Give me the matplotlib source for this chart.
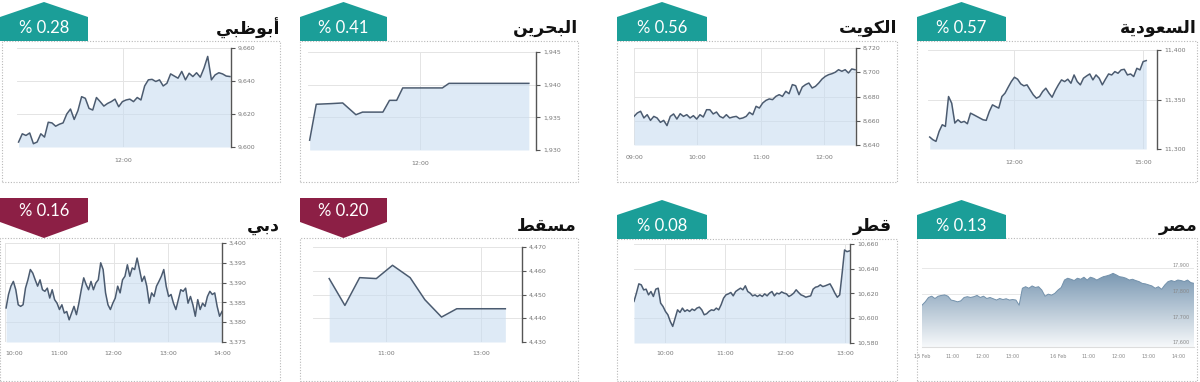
import numpy as np
import matplotlib
matplotlib.use('Agg')
import matplotlib.pyplot as plt
from matplotlib.patches import Polygon, Rectangle
from matplotlib.colors import LinearSegmentedColormap
from matplotlib.transforms import blended_transform_factory

# ---- data ----
titles = ['أبوظبي', 'البحرين', 'الكويت', 'السعودية', 'دبي', 'مسقط', 'قطر', 'مصر']
changes = ['0.28', '0.41', '0.56', '0.57', '0.16', '0.20', '0.08', '0.13']
is_up = [True, True, True, True, False, False, True, True]

abudhabi = [9603, 9608, 9607, 9608.5, 9602, 9603, 9608, 9606, 9615, 9614.6, 9612.6, 9613.8,
            9614.6, 9620, 9623, 9616.7, 9622, 9630.5, 9629.5, 9623.4, 9622.4, 9630, 9627.5,
            9624.8, 9626.4, 9627.5, 9629, 9624.4, 9627.5, 9628.5, 9629, 9627.5, 9630, 9628.5,
            9637, 9640.7, 9641, 9639.7, 9640.7, 9637, 9638.6, 9644.3, 9643, 9641.7, 9645.8,
            9640.7, 9644.7, 9642.7, 9645, 9642.3, 9647.8, 9654.9, 9640.7, 9643.7, 9645, 9644.3,
            9643, 9642.7]
abudhabi_session = (10.0, 14.03)

bahrain_times = [10.0, 10.12, 10.39, 10.60, 10.72, 10.84, 10.96, 11.33, 11.45, 11.58, 11.69,
                 12.41, 12.53, 13.98]
bahrain = [1931.5, 1937.0, 1937.1, 1937.2, 1936.3, 1935.4, 1935.8, 1935.8, 1937.6, 1937.6,
           1939.5, 1939.5, 1940.2, 1940.2]

kuwait = [8663.6, 8666.4, 8667.8, 8662.3, 8665, 8660.3, 8663.6, 8662.3, 8658.7, 8660.3, 8656,
          8663.6, 8665.6, 8661.4, 8665.8, 8663.6, 8665, 8662.3, 8664.2, 8661.4, 8665, 8663.1,
          8669.1, 8669.1, 8665.6, 8667.2, 8663.6, 8662.3, 8665, 8662.3, 8663.1, 8663.6, 8661.7,
          8662.3, 8663.6, 8666.9, 8665, 8671.9, 8670.5, 8674.6, 8676.8, 8678, 8677.4, 8680.1,
          8681.5, 8680.1, 8684.3, 8682.3, 8689.8, 8688.9, 8681.5, 8687.8, 8689.8, 8691.1, 8687,
          8688.4, 8691.1, 8694.4, 8696.6, 8698, 8698.8, 8700, 8702.1, 8700.8, 8702.1, 8699.4,
          8702.7, 8702.1]
kuwait_session = (9.0, 12.49)

saudi = [11312.1, 11309.4, 11307.7, 11317.8, 11324.5, 11322.8, 11353, 11346.3, 11326.2, 11329.5,
         11326.8, 11327.9, 11325.5, 11336.2, 11334.6, 11332.9, 11331.2, 11329.5, 11328.9, 11337.9,
         11344.6, 11342.9, 11341.3, 11353, 11356.4, 11362.4, 11368.1, 11372.5, 11370.5, 11365.8,
         11363.8, 11364.8, 11359.7, 11354.7, 11351.3, 11353, 11358.1, 11361.4, 11356.4, 11352.3,
         11359.1, 11364.8, 11369.8, 11368.1, 11370.5, 11366.4, 11374.8, 11368.1, 11364.8, 11371.5,
         11373.8, 11375.8, 11369.8, 11374.8, 11371.5, 11364.8, 11370.5, 11375.8, 11374.8, 11378.2,
         11376.5, 11379.9, 11380.5, 11374.8, 11375.8, 11373.2, 11381.5, 11379.9, 11388.3, 11389.3]
saudi_session = (10.04, 15.08)

dubai = [3383.6, 3387, 3389.1, 3390.3, 3388.2, 3384.4, 3384, 3384.4, 3388.6, 3390.7, 3393.3,
         3392.4, 3390.7, 3389.1, 3390.7, 3388.2, 3387.8, 3388.6, 3386.1, 3388.2, 3385.7, 3384.8,
         3383.2, 3384.4, 3382.3, 3382.7, 3380.6, 3382.3, 3384, 3381.9, 3384.8, 3388.2, 3391.2,
         3389.5, 3388.2, 3390.3, 3388.2, 3389.9, 3390.7, 3395, 3393.3, 3387.4, 3384.4, 3383.2,
         3384.8, 3386.1, 3389.1, 3387.4, 3390.7, 3391.6, 3394.5, 3391.6, 3393.7, 3393.3, 3396.2,
         3393.3, 3390.3, 3391.6, 3389.1, 3384.8, 3387.4, 3386.5, 3389.1, 3390.3, 3391.6, 3393.3,
         3389.1, 3386.5, 3387, 3384.8, 3383.2, 3385.7, 3388.2, 3387.8, 3388.6, 3384.8, 3386.5,
         3384.4, 3381.5, 3385.7, 3383.2, 3384.8, 3384, 3386.5, 3387.8, 3387, 3387.4, 3384,
         3381.5, 3382.7]
dubai_session = (10.02, 14.0)

muscat_times = [9.81, 10.14, 10.45, 10.80, 11.14, 11.51, 11.82, 12.17, 12.49, 12.84, 13.19, 13.51]
muscat = [4456.7, 4445.4, 4457.1, 4456.7, 4462.3, 4457.1, 4447.8, 4440.5, 4444.0, 4444.0,
          4444.0, 4444.0]

qatar = [10613.6, 10620.3, 10627.8, 10627, 10622.9, 10623.5, 10618.9, 10621.6, 10617.6, 10623.5,
         10624.3, 10612.2, 10609.5, 10605.5, 10602.8, 10597.4, 10593.4, 10600.1, 10606.8, 10604.7,
         10608.2, 10605.5, 10606.8, 10605.5, 10607.4, 10606.3, 10608.2, 10609, 10606.8, 10602.8,
         10603.6, 10605.5, 10606.8, 10606.3, 10608.2, 10606.8, 10610.9, 10616.2, 10618.9, 10619.7,
         10620.8, 10618.1, 10621.6, 10623, 10624.3, 10623, 10626.2, 10621.6, 10620.3, 10618.1,
         10618.9, 10617.6, 10618.9, 10617.6, 10619.7, 10618.1, 10620.3, 10621.6, 10618.1, 10620.3,
         10619.7, 10621.3, 10620.3, 10619.7, 10617.6, 10618.7, 10620.3, 10623, 10620.8, 10618.9,
         10618.1, 10617, 10617.6, 10618.1, 10623.5, 10625.1, 10625.6, 10627, 10625.6, 10626.2,
         10627, 10627.8, 10624.3, 10620.3, 10617, 10618.9, 10636.4, 10655.2, 10653.8, 10654.4]
qatar_session = (9.49, 13.07)

egypt = [17756, 17769, 17786, 17791, 17782, 17791, 17794, 17796, 17791, 17776, 17773, 17769,
         17773, 17786, 17789, 17786, 17789, 17794, 17786, 17791, 17782, 17786, 17781, 17776,
         17782, 17778, 17781, 17776, 17778, 17776, 17756, 17822, 17828, 17822, 17831, 17825,
         17828, 17815, 17791, 17799, 17795, 17802, 17815, 17825, 17854, 17861, 17857, 17852,
         17861, 17857, 17865, 17854, 17865, 17861, 17854, 17861, 17867, 17870, 17874, 17880,
         17874, 17867, 17865, 17861, 17854, 17857, 17852, 17848, 17841, 17839, 17835, 17831,
         17822, 17828, 17818, 17835, 17848, 17852, 17848, 17854, 17852, 17848, 17854, 17844,
         17841]
egypt_session = (0.0, 9.0)   # trading hours across two days
egypt_tick_hours = [0, 1, 2, 3, 4.5, 5.5, 6.5, 7.5, 8.5]
egypt_tick_labels = ['15 Feb', '11:00', '12:00', '13:00', '16 Feb', '11:00', '12:00', '13:00', '14:00']
egypt_yticks = [17600, 17700, 17800, 17900]

# ---- Arabic shaping (presentation forms, visual order) ----
FORMS = {
    'ا': ('\uFE8D', '\uFE8E', None, None), 'أ': ('\uFE83', '\uFE84', None, None),
    'ب': ('\uFE8F', '\uFE90', '\uFE91', '\uFE92'), 'ت': ('\uFE95', '\uFE96', '\uFE97', '\uFE98'),
    'ة': ('\uFE93', '\uFE94', None, None), 'ح': ('\uFEA1', '\uFEA2', '\uFEA3', '\uFEA4'),
    'د': ('\uFEA9', '\uFEAA', None, None), 'ر': ('\uFEAD', '\uFEAE', None, None),
    'س': ('\uFEB1', '\uFEB2', '\uFEB3', '\uFEB4'), 'ص': ('\uFEB9', '\uFEBA', '\uFEBB', '\uFEBC'),
    'ط': ('\uFEC1', '\uFEC2', '\uFEC3', '\uFEC4'), 'ظ': ('\uFEC5', '\uFEC6', '\uFEC7', '\uFEC8'),
    'ع': ('\uFEC9', '\uFECA', '\uFECB', '\uFECC'), 'ق': ('\uFED5', '\uFED6', '\uFED7', '\uFED8'),
    'ك': ('\uFED9', '\uFEDA', '\uFEDB', '\uFEDC'), 'ل': ('\uFEDD', '\uFEDE', '\uFEDF', '\uFEE0'),
    'م': ('\uFEE1', '\uFEE2', '\uFEE3', '\uFEE4'), 'ن': ('\uFEE5', '\uFEE6', '\uFEE7', '\uFEE8'),
    'و': ('\uFEED', '\uFEEE', None, None), 'ي': ('\uFEF1', '\uFEF2', '\uFEF3', '\uFEF4'),
}


def shape(word):
    out = []
    for i, ch in enumerate(word):
        iso, fin, ini, med = FORMS[ch]
        prev_joins = i > 0 and FORMS[word[i - 1]][2] is not None
        next_joins = i + 1 < len(word) and ini is not None
        if prev_joins and next_joins:
            out.append(med)
        elif prev_joins:
            out.append(fin)
        elif next_joins:
            out.append(ini)
        else:
            out.append(iso)
    return ''.join(reversed(out))


W, H = 1200, 382
fig = plt.figure(figsize=(12, 3.82), dpi=100)
fig.patch.set_facecolor('white')

LINE = '#4b5b70'
FILL = '#c9ddf0'
TEAL = '#1b9e98'
MAROON = '#8c1f45'


def fx(x):
    return x / W


def fy(y):
    return 1 - y / H


def add_axes(x0, y0, x1, y1):
    return fig.add_axes([fx(x0), fy(y1), (x1 - x0) / W, (y1 - y0) / H])


def frame(x0, y0, x1, y1):
    fig.add_artist(Rectangle((fx(x0), fy(y1)), (x1 - x0) / W, (y1 - y0) / H,
                             transform=fig.transFigure, fill=False, ec='#b8b8b8',
                             lw=0.8, ls=(0, (1, 1.5))))


def badge(x0, x1, top, mid, bottom, up, text):
    c = (x0 + x1) / 2
    if up:
        pts = [(x0, bottom), (x0, mid), (c, top), (x1, mid), (x1, bottom)]
        ty = (mid + bottom) / 2 - 1
        col = TEAL
    else:
        pts = [(x0, top), (x1, top), (x1, mid), (c, bottom), (x0, mid)]
        ty = (top + mid) / 2 + 1
        col = MAROON
    fig.add_artist(Polygon([(fx(a), fy(b)) for a, b in pts], closed=True,
                           transform=fig.transFigure, fc=col, ec='none', zorder=5))
    fig.text(fx(c), fy(ty), '% ' + text, ha='center', va='center', color='white',
             fontsize=12, family='Lato', zorder=6)


def title(xr, yc, name):
    fig.text(fx(xr), fy(yc), shape(name), ha='right', va='center', fontsize=12.5,
             fontweight='bold', color='#111111', family='DejaVu Sans')


def panel(box, x, y, xlim, yticks, xticks, xpad):
    ax = add_axes(*box)
    ax.fill_between(x, y, yticks[0], color=FILL, alpha=0.6, lw=0)
    ax.plot(x, y, color=LINE, lw=1.1)
    ax.set_xlim(xlim)
    ax.set_ylim(yticks[0], yticks[-1])
    ax.set_yticks(yticks)
    ax.set_yticklabels([f'{v:,}' for v in yticks])
    ax.set_xticks(xticks)
    ax.set_xticklabels([f'{int(t):02d}:00' for t in xticks])
    ax.yaxis.tick_right()
    for s in ['left', 'top', 'bottom']:
        ax.spines[s].set_visible(False)
    ax.spines['right'].set_color('#555555')
    ax.spines['right'].set_linewidth(1.0)
    ax.tick_params(axis='y', length=3, width=0.8, color='#555555', labelsize=4.5,
                   labelcolor='#777777', pad=2)
    ax.tick_params(axis='x', length=0, labelsize=4.5, labelcolor='#777777', pad=xpad)
    ax.grid(color='#e4e4e4', lw=0.7)
    ax.set_axisbelow(True)
    ax.patch.set_alpha(0)
    return ax


# frames
for box in [(2, 41, 280, 182), (300, 41, 578, 182), (617, 41, 897, 182), (917, 41, 1197, 182),
            (0, 238, 280, 381), (300, 238, 578, 381), (617, 239, 897, 381), (917, 238, 1197, 381)]:
    frame(*box)

# badges and titles
badge_x = [(0, 88), (300, 387), (617, 707), (917, 1006), (0, 88), (300, 387), (617, 707), (917, 1006)]
title_pos = [(280, 28), (578, 28), (897, 28), (1197, 28), (280, 226), (577, 226), (892, 226), (1197, 226)]
for i in range(8):
    x0, x1 = badge_x[i]
    if i < 4:
        geom = (2, 17, 41)
    elif is_up[i]:
        geom = (200, 215, 239)
    else:
        geom = (198, 222, 238)
    badge(x0, x1, *geom, is_up[i], changes[i])
    title(*title_pos[i], titles[i])

# line panels
panel((17, 48, 231, 147), np.linspace(*abudhabi_session, len(abudhabi)), abudhabi,
      (9.97, 14.05), [9600, 9620, 9640, 9660], [12], 8)
panel((308, 52, 536, 150), bahrain_times, bahrain,
      (9.97, 14.11), [1930, 1935, 1940, 1945], [12], 8)
panel((634, 48, 856, 145), np.linspace(*kuwait_session, len(kuwait)), kuwait,
      (9.0, 12.505), [8640, 8660, 8680, 8700, 8720], [9, 10, 11, 12], 7)
panel((928, 50, 1157, 149), np.linspace(*saudi_session, len(saudi)), saudi,
      (10.0, 15.33), [11300, 11350, 11400], [12, 15], 8)
ax_dubai = panel((5, 243, 222, 342), np.linspace(*dubai_session, len(dubai)), dubai,
                 (10.0, 14.0), [3375, 3380, 3385, 3390, 3395, 3400], [10, 11, 12, 13, 14], 6.5)
ax_dubai.get_xticklabels()[0].set_ha('left')
panel((313, 247, 522, 342), muscat_times, muscat,
      (9.47, 13.86), [4430, 4440, 4450, 4460, 4470], [11, 13], 6.5)
panel((634, 244, 850, 343), np.linspace(*qatar_session, len(qatar)), qatar,
      (9.49, 13.08), [10580, 10600, 10620, 10640, 10660], [10, 11, 12, 13], 6)

# Egypt: gradient area chart
ax = add_axes(922, 240, 1194, 347)
ex = np.linspace(*egypt_session, len(egypt))
ylo, yhi = 17593, 18010
ax.set_xlim(egypt_session)
ax.set_ylim(ylo, yhi)
cmap = LinearSegmentedColormap.from_list('eg', ['#f7f9fb', '#7a98b2'])
grad = np.linspace(0, 1, 256).reshape(-1, 1)
im = ax.imshow(grad, extent=[egypt_session[0], egypt_session[1], ylo, max(egypt)],
               aspect='auto', cmap=cmap, origin='lower', zorder=2)
poly = ax.fill_between(ex, egypt, ylo, facecolor='none', edgecolor='none')
im.set_clip_path(poly.get_paths()[0], transform=ax.transData)
ax.plot(ex, egypt, color='#7391ab', lw=0.7, zorder=3)
ax.set_xticks(egypt_tick_hours)
ax.set_xticklabels(egypt_tick_labels)
ax.set_yticks(egypt_yticks)
ax.set_yticklabels([])
ax.tick_params(axis='both', length=0, labelsize=3.5, labelcolor='#888888', pad=5)
trans = blended_transform_factory(ax.transAxes, ax.transData)
for v in egypt_yticks:
    ax.text(0.985, v, f'{v:,}', transform=trans, ha='right', va='bottom', fontsize=3.5,
            color='#888888', zorder=4)
ax.grid(axis='y', color='#e8e8e8', lw=0.7)
ax.set_axisbelow(True)
for s in ['left', 'top', 'right']:
    ax.spines[s].set_visible(False)
ax.spines['bottom'].set_color('#dddddd')
ax.patch.set_alpha(0)

fig.savefig('out.png', dpi=100)
